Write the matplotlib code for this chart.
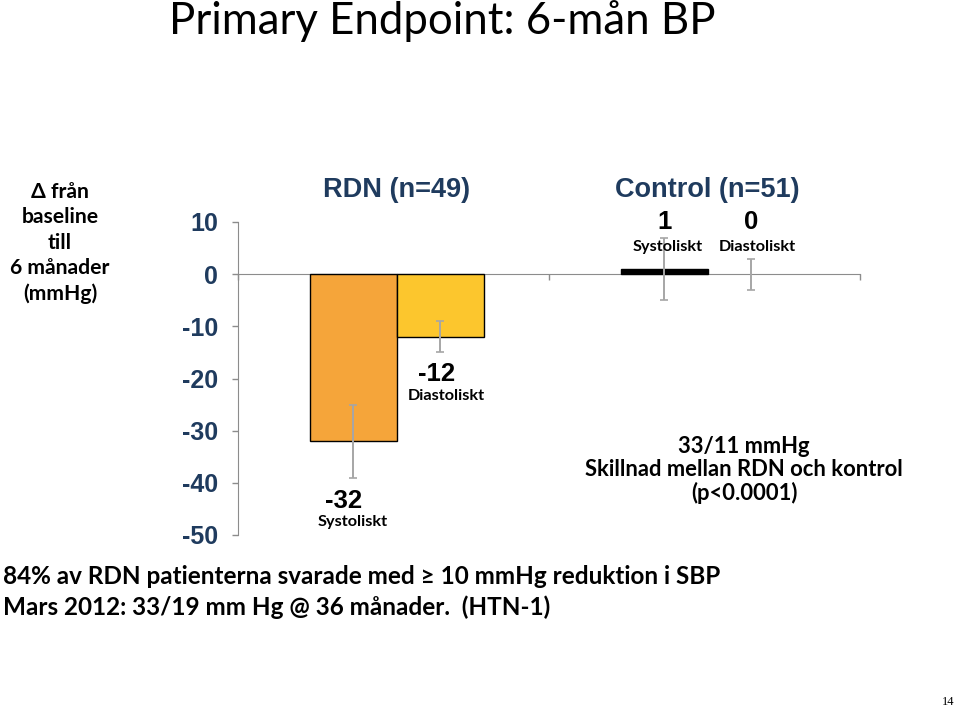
import numpy as np
import matplotlib.pyplot as plt

# data
groups = ["RDN (n=49)", "Control (n=51)"]
series = ["Systoliskt", "Diastoliskt"]
systolic = [-32, 1]
diastolic = [-12, 0]
sys_err = [7, 6]
dia_err = [3, 3]
yticks = [10, 0, -10, -20, -30, -40, -50]

navy = "#1F3B5E"
err_grey = "#A6A6A6"
axis_grey = "#8C8C8C"

fig = plt.figure(figsize=(9.6, 7.1), dpi=100)
ax = fig.add_axes([238 / 960, 1 - 535 / 710, 622 / 960, 313 / 710])

x = np.arange(len(groups)) + 0.01
w = 0.28

sys_colors = ["#F5A53A", "black"]
ax.bar(x - w / 2, systolic, w, color=sys_colors, edgecolor="black", linewidth=1, zorder=2)
# zero-height bar has no visible outline in the original
ax.bar(x + w / 2, diastolic, w, color="#FCC62D", edgecolor="black",
       linewidth=[1 if v != 0 else 0 for v in diastolic], zorder=2)
ax.errorbar(x - w / 2, systolic, yerr=sys_err, fmt="none", ecolor=err_grey,
            elinewidth=1.4, capsize=3, capthick=1.2, zorder=3)
ax.errorbar(x + w / 2, diastolic, yerr=dia_err, fmt="none", ecolor=err_grey,
            elinewidth=1.4, capsize=3, capthick=1.2, zorder=3)

ax.set_xlim(-0.5, 1.5)
ax.set_ylim(-50, 10)
ax.set_yticks(yticks)
ax.set_yticklabels([str(t) for t in yticks], fontsize=18, fontweight="bold",
                   color=navy, family="Liberation Sans")
ax.tick_params(axis="y", direction="out", length=4.5, width=1, color=axis_grey, pad=10)
ax.set_xticks([-0.5, 0.5, 1.5])
ax.set_xticklabels([])
ax.tick_params(axis="x", direction="out", length=4.5, width=1, color=axis_grey)
for s in ["top", "right"]:
    ax.spines[s].set_visible(False)
ax.spines["left"].set_color(axis_grey)
ax.spines["bottom"].set_color(axis_grey)
ax.spines["bottom"].set_position(("data", 0))
ax.spines["bottom"].set_zorder(1)
ax.patch.set_alpha(0)

# group headers
for xi, g in zip(x, groups):
    ax.text(xi, 16.2, g, ha="center", va="center", fontsize=19.5, color=navy,
            family="Liberation Sans", fontweight="bold")

# value labels
lab_font = dict(family="Lato", fontweight="bold", color="black")
num_font = dict(family="Liberation Sans", fontweight="bold", color="black")
# RDN
ax.text(x[0] - w / 2 - 0.03, -43.4, str(systolic[0]), ha="center", va="center", fontsize=18.5, **num_font)
ax.text(x[0] - w / 2, -47.6, series[0], ha="center", va="center", fontsize=11.7, **lab_font)
ax.text(x[0] + w / 2 - 0.01, -19.2, str(diastolic[0]), ha="center", va="center", fontsize=18.5, **num_font)
ax.text(x[0] + w / 2 + 0.02, -23.4, series[1], ha="center", va="center", fontsize=11.7, **lab_font)
# Control
ax.text(x[1] - w / 2, 10.0, str(systolic[1]), ha="center", va="center", fontsize=18.5, **num_font)
ax.text(x[1] - w / 2 + 0.01, 5.3, series[0], ha="center", va="center", fontsize=11.7, **lab_font)
ax.text(x[1] + w / 2, 10.0, str(diastolic[1]), ha="center", va="center", fontsize=18.5, **num_font)
ax.text(x[1] + w / 2 + 0.02, 5.3, series[1], ha="center", va="center", fontsize=11.7, **lab_font)

# difference note
fig.text(744 / 960, 1 - 470 / 710, "33/11 mmHg\nSkillnad mellan RDN och kontrol\n(p<0.0001)",
         ha="center", va="center", fontsize=15.8, linespacing=1.1, **lab_font)

# y label
fig.text(60 / 960, 1 - 243 / 710, "Δ från\nbaseline\ntill\n6 månader\n(mmHg)",
         ha="center", va="center", fontsize=15.2, linespacing=1.33, **lab_font)

# title
fig.text(442 / 960, 1 - 21 / 710, "Primary Endpoint: 6-mån BP", ha="center", va="center",
         fontsize=31.5, family="Lato", color="black")

# footnotes
fig.text(3 / 960, 1 - 577 / 710, "84% av RDN patienterna svarade med ≥ 10 mmHg reduktion i SBP",
         ha="left", va="center", fontsize=17.5, **lab_font)
fig.text(3 / 960, 1 - 607 / 710, "Mars 2012: 33/19 mm Hg @ 36 månader.  (HTN-1)",
         ha="left", va="center", fontsize=17.5, **lab_font)

fig.text(948 / 960, 1 - 702 / 710, "14", ha="center", va="center", fontsize=9,
         family="Liberation Serif")

fig.savefig("out.png", dpi=100)
